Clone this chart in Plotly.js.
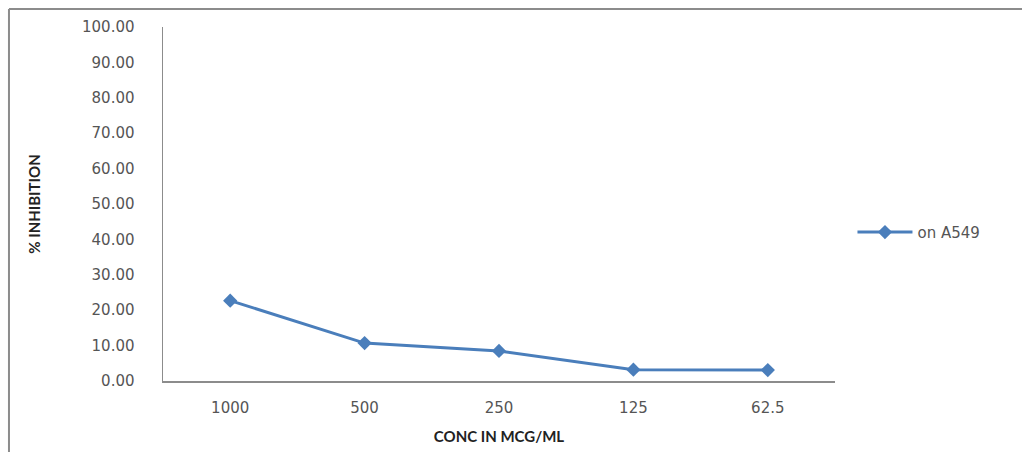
<!DOCTYPE html>
<html>
<head>
<meta charset="utf-8">
<script src="https://cdn.plot.ly/plotly-3.0.1.min.js"></script>
<style>html,body{margin:0;padding:0;background:#fff;}#chart{width:1022px;height:452px;}</style>
</head>
<body>
<div id="chart"></div>
<script>
const concentrations = ["1000", "500", "250", "125", "62.5"];
const inhibitionA549 = [22.7, 10.7, 8.5, 3.2, 3.1];
const yTicks = [0, 10, 20, 30, 40, 50, 60, 70, 80, 90, 100];
const seriesName = "on A549";

const tickFont = {family: "'DejaVu Sans', Verdana, sans-serif", size: 15, color: "#555"};
const titleFont = {family: "'Liberation Sans Narrow', Lato, sans-serif", size: 15, color: "#222", weight: "bold"};

const trace = {
  x: concentrations,
  y: inhibitionA549,
  type: "scatter",
  mode: "lines+markers",
  name: seriesName,
  line: {color: "#4a7ebb", width: 3},
  marker: {symbol: "diamond", size: 11, color: "#4a7ebb"}
};

const layout = {
  width: 1022, height: 452,
  margin: {l: 163, r: 187, t: 27, b: 71},
  paper_bgcolor: "#fff", plot_bgcolor: "#fff",
  showlegend: true,
  legend: {x: 1.026, y: 0.42, xanchor: "left", yanchor: "middle", itemwidth: 55,
           font: tickFont},
  xaxis: {
    type: "category",
    range: [-0.5, 4.5],
    showline: true, linecolor: "#8c8c8c", linewidth: 1.5,
    showgrid: false, zeroline: false, ticks: "",
    ticklabelstandoff: 12,
    tickfont: tickFont,
    title: {text: "CONC IN MCG/ML", standoff: 16, font: titleFont}
  },
  yaxis: {
    range: [0, 100],
    tickvals: yTicks,
    ticktext: yTicks.map(v => v.toFixed(2)),
    showline: true, linecolor: "#8c8c8c", linewidth: 1.5,
    showgrid: false, zeroline: false, ticks: "",
    ticklabelstandoff: 24,
    tickfont: tickFont,
    title: {text: "% INHIBITION", standoff: 38, font: titleFont}
  },
  shapes: [
    {type: "line", xref: "paper", yref: "paper", x0: -0.2292, x1: -0.2292, y0: -0.21, y1: 1.0508,
     line: {color: "#8c8c8c", width: 2}},
    {type: "line", xref: "paper", yref: "paper", x0: -0.2292, x1: 1.29, y0: 1.0508, y1: 1.0508,
     line: {color: "#8c8c8c", width: 2}}
  ]
};

Plotly.newPlot("chart", [trace], layout, {displayModeBar: false, staticPlot: true});
</script>
</body>
</html>
